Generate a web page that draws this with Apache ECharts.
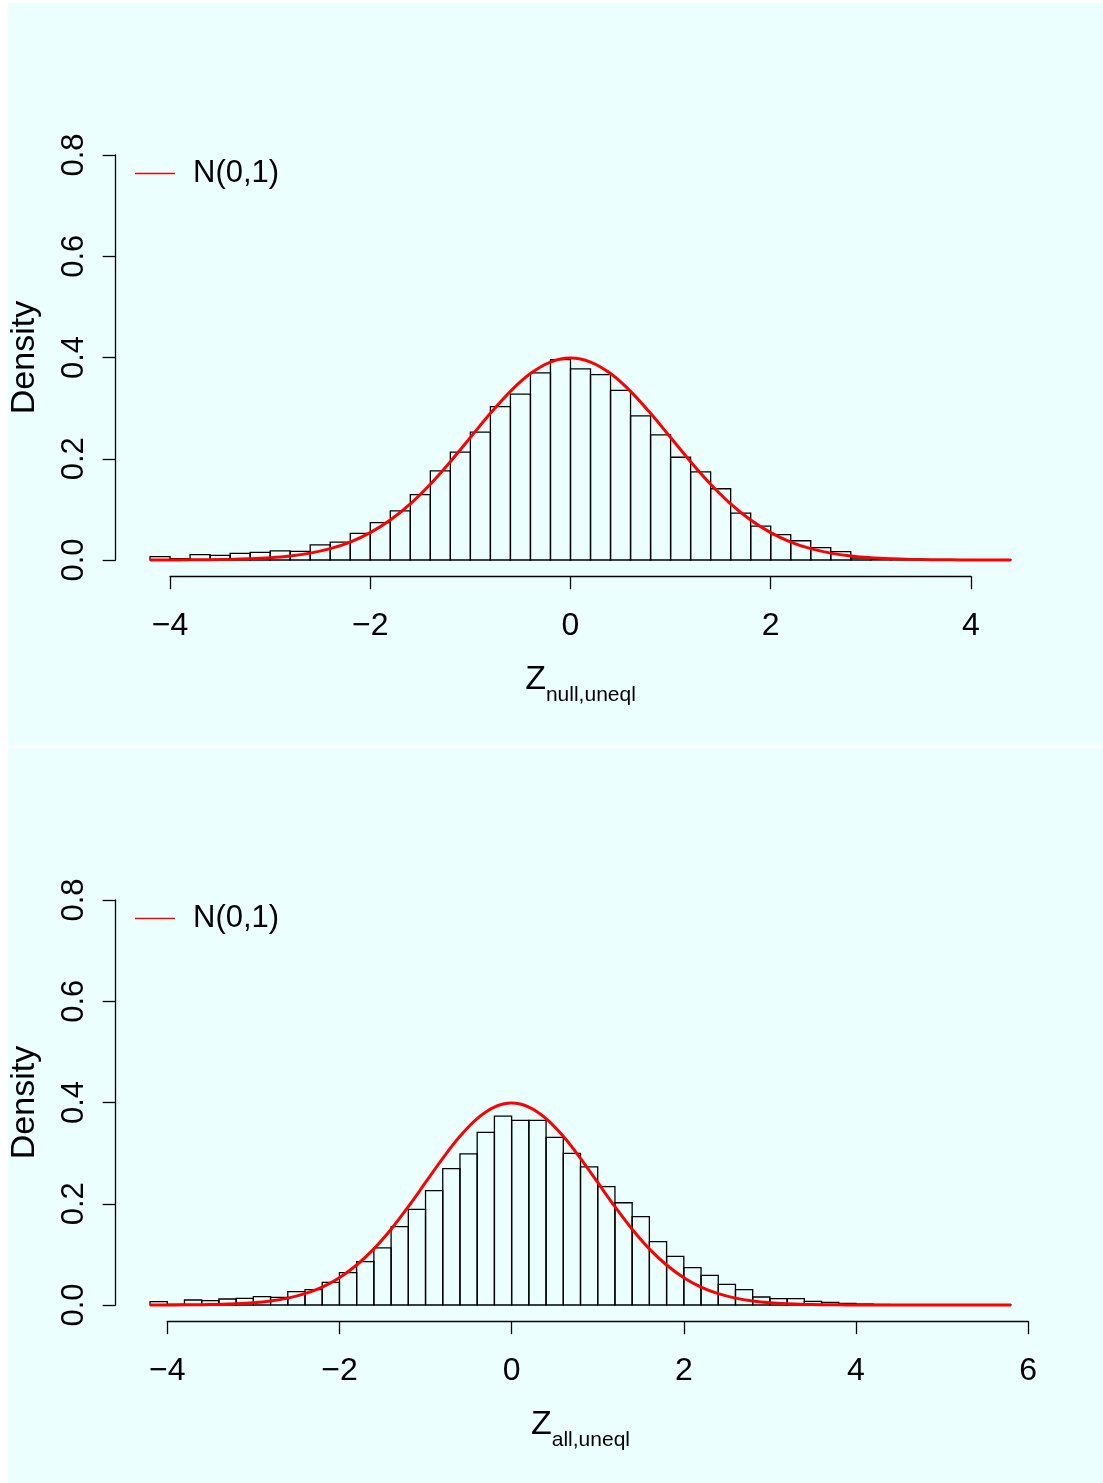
<!DOCTYPE html>
<html><head><meta charset="utf-8">
<script src="https://cdn.jsdelivr.net/npm/echarts@6/dist/echarts.min.js"></script>
<style>html,body{margin:0;padding:0;background:#fff}#c{width:1103px;height:1483px}</style>
</head><body><div id="c"></div>
<script>
// ---------- data ----------
const binWidth = 0.2;
const topBreakStart = -4.2;
const topDensity = [0.0066,0.0026,0.0105,0.0090,0.0130,0.0150,0.0180,0.0170,0.0300,0.0355,
  0.0526,0.0737,0.0970,0.1290,0.1760,0.2130,0.2526,0.3030,0.3275,0.3695,
  0.3960,0.3775,0.3663,0.3350,0.2848,0.2470,0.2030,0.1740,0.1407,0.0927,
  0.0670,0.0500,0.0380,0.0243,0.0164,0.0040,0.0020,0.0010,0.0005,0.0003,
  0.0000,0.0000,0.0003];
const botBreakStart = -4.2;
const botDensity = [0.0066,0.0013,0.0099,0.0086,0.0119,0.0132,0.0165,0.0150,0.0264,0.0303,
  0.0448,0.0640,0.0856,0.1127,0.1550,0.1890,0.2260,0.2695,0.2985,0.3410,
  0.3730,0.3645,0.3645,0.3313,0.2997,0.2727,0.2340,0.2020,0.1745,0.1250,
  0.0960,0.0737,0.0586,0.0408,0.0303,0.0158,0.0125,0.0125,0.0072,0.0053,
  0.0030,0.0020,0.0010,0.0005,0.0000,0.0003,0.0000,0.0000,0.0000,0.0003];
// N(0,1) curve
const curveX = [-4.2,-4.0,-3.8,-3.6,-3.4,-3.2,-3.0,-2.8,-2.6,-2.4,-2.2,-2.0,-1.8,-1.6,-1.4,-1.2,-1.0,-0.8,-0.6,-0.4,-0.2,
  0.0,0.2,0.4,0.6,0.8,1.0,1.2,1.4,1.6,1.8,2.0,2.2,2.4,2.6,2.8,3.0,3.2,3.4,3.6,3.8,4.0,4.2,4.4,
  4.6,4.8,5.0,5.2,5.4,5.6,5.8];
const curveY = [0.0001,0.0001,0.0003,0.0006,0.0012,0.0024,0.0044,0.0079,0.0136,0.0224,0.0355,0.0540,0.0790,0.1109,0.1497,0.1942,0.2420,0.2897,0.3332,0.3683,0.3910,
  0.3989,0.3910,0.3683,0.3332,0.2897,0.2420,0.1942,0.1497,0.1109,0.0790,0.0540,0.0355,0.0224,0.0136,0.0079,0.0044,0.0024,0.0012,0.0006,0.0003,0.0001,0.0001,0.0000,
  0.0000,0.0000,0.0000,0.0000,0.0000,0.0000,0.0000];
const topCurveEnd = 4.4, botCurveEnd = 5.8;
const yTickLabels = ['0.0','0.2','0.4','0.6','0.8'];
const topXTicks = ['\u22124','\u22122','0','2','4'];
const botXTicks = ['\u22124','\u22122','0','2','4','6'];
const legendName = 'N(0,1)';

// ---------- build ----------
function bins(start, dens){ return dens.map((d,i)=>[start+i*binWidth, start+(i+1)*binWidth, d]); }
function curve(end){ const o=[]; curveX.forEach((x,i)=>{ if(x<=end+1e-9) o.push([x,curveY[i]]); }); return o; }
function xLab(ticks, min){ return v => ticks[Math.round((v-min)/2)]; }
function yLab(v){ return yTickLabels[Math.round(v/0.2)]; }

const FONT = "'Liberation Sans',Arial,sans-serif";
const BG = '#ebffff';
const dy = 745;
const plotL = 115.6, plotW = 929.8;

function renderBar(params, api){
  const a = api.coord([api.value(0), 0]);
  const b = api.coord([api.value(1), api.value(2)]);
  return {type:'rect', shape:{x:a[0], y:b[1], width:b[0]-a[0], height:a[1]-b[1]},
    style:{fill:'none', stroke:'#000', lineWidth:1.3}};
}

const grids = [], xAxes = [], yAxes = [], series = [], legends = [];
function panel(off, xmin, xmax, dataRange, ticks, sub, dens, start, cEnd){
  const gi = grids.length;
  // data grid (x title centred on the plot region, as in R)
  grids.push({left:plotL, width:plotW, top:138.8+off, height:437.4});
  xAxes.push({type:'value', gridIndex:gi, min:dataRange[0], max:dataRange[1],
    axisLine:{show:false}, axisTick:{show:false}, axisLabel:{show:false}, splitLine:{show:false},
    name:'{z|Z}{s|'+sub+'}', nameLocation:'middle', nameGap:86,
    nameTextStyle:{fontFamily:FONT, color:'#000', rich:{
      z:{fontSize:34, fontFamily:FONT, color:'#000', verticalAlign:'bottom', padding:[0,0,10,0]},
      s:{fontSize:21, fontFamily:FONT, color:'#000', verticalAlign:'bottom'}}}});
  yAxes.push({type:'value', gridIndex:gi, min:-0.032, max:0.832, show:false});
  // y display grid
  grids.push({left:plotL, width:100, top:155+off, height:405});
  xAxes.push({type:'value', gridIndex:gi+1, min:0, max:1, show:false});
  yAxes.push({type:'value', gridIndex:gi+1, min:0, max:0.8, interval:0.2,
    axisLine:{show:true, lineStyle:{color:'#000', width:1.3}},
    axisTick:{show:true, length:13, lineStyle:{color:'#000', width:1.3}},
    splitLine:{show:false},
    axisLabel:{rotate:90, margin:26, fontSize:31, color:'#000', fontFamily:FONT, formatter:yLab},
    name:'Density', nameLocation:'middle', nameRotate:90, nameGap:74,
    nameTextStyle:{fontSize:34, color:'#000', fontFamily:FONT}});
  // x display grid
  const pxPer = plotW/(dataRange[1]-dataRange[0]);
  const xl = plotL + (xmin-dataRange[0])*pxPer;
  const xw = (xmax-xmin)*pxPer;
  grids.push({left:xl, width:xw, top:476.2+off, height:100});
  xAxes.push({type:'value', gridIndex:gi+2, min:xmin, max:xmax, interval:2,
    axisLine:{show:true, lineStyle:{color:'#000', width:1.3}},
    axisTick:{show:true, length:13, lineStyle:{color:'#000', width:1.3}},
    splitLine:{show:false},
    axisLabel:{margin:34, fontSize:32, color:'#000', fontFamily:FONT, formatter:xLab(ticks, xmin)}});
  yAxes.push({type:'value', gridIndex:gi+2, min:0, max:1, show:false});

  series.push({type:'custom', xAxisIndex:gi, yAxisIndex:gi, renderItem:renderBar,
    data:bins(start, dens), encode:{x:[0,1], y:2}, silent:true, z:2});
  series.push({type:'line', name:legendName, xAxisIndex:gi, yAxisIndex:gi, data:curve(cEnd),
    smooth:0.35, showSymbol:false, symbol:'none', lineStyle:{color:'#ff0000', width:3}, itemStyle:{color:'#ff0000'}, z:3, silent:true});
  legends.push({data:[{name:legendName, icon:'path://M0,0H40V1.5H0Z'}], left:135, top:158+off, padding:0,
    itemWidth:40, itemHeight:1.6, selectedMode:false,
    textStyle:{fontSize:31, color:'#000', fontFamily:FONT, padding:[0,0,0,13]}});
}
panel(0, -4, 4, [-4.544, 4.744], topXTicks, 'null,uneql', topDensity, topBreakStart, topCurveEnd);
panel(dy, -4, 6, [-4.6, 6.2], botXTicks, 'all,uneql', botDensity, botBreakStart, botCurveEnd);

const chart = echarts.init(document.getElementById('c'), null, {renderer:'canvas'});
chart.setOption({
  backgroundColor:'#fff',
  animation:false,
  graphic:[
    {type:'rect', z:-100, silent:true, shape:{x:8, y:3, width:1095, height:742}, style:{fill:BG}},
    {type:'rect', z:-100, silent:true, shape:{x:8, y:748, width:1095, height:735}, style:{fill:BG}}
  ],
  grid:grids, xAxis:xAxes, yAxis:yAxes, legend:legends, series:series
});
</script></body></html>
